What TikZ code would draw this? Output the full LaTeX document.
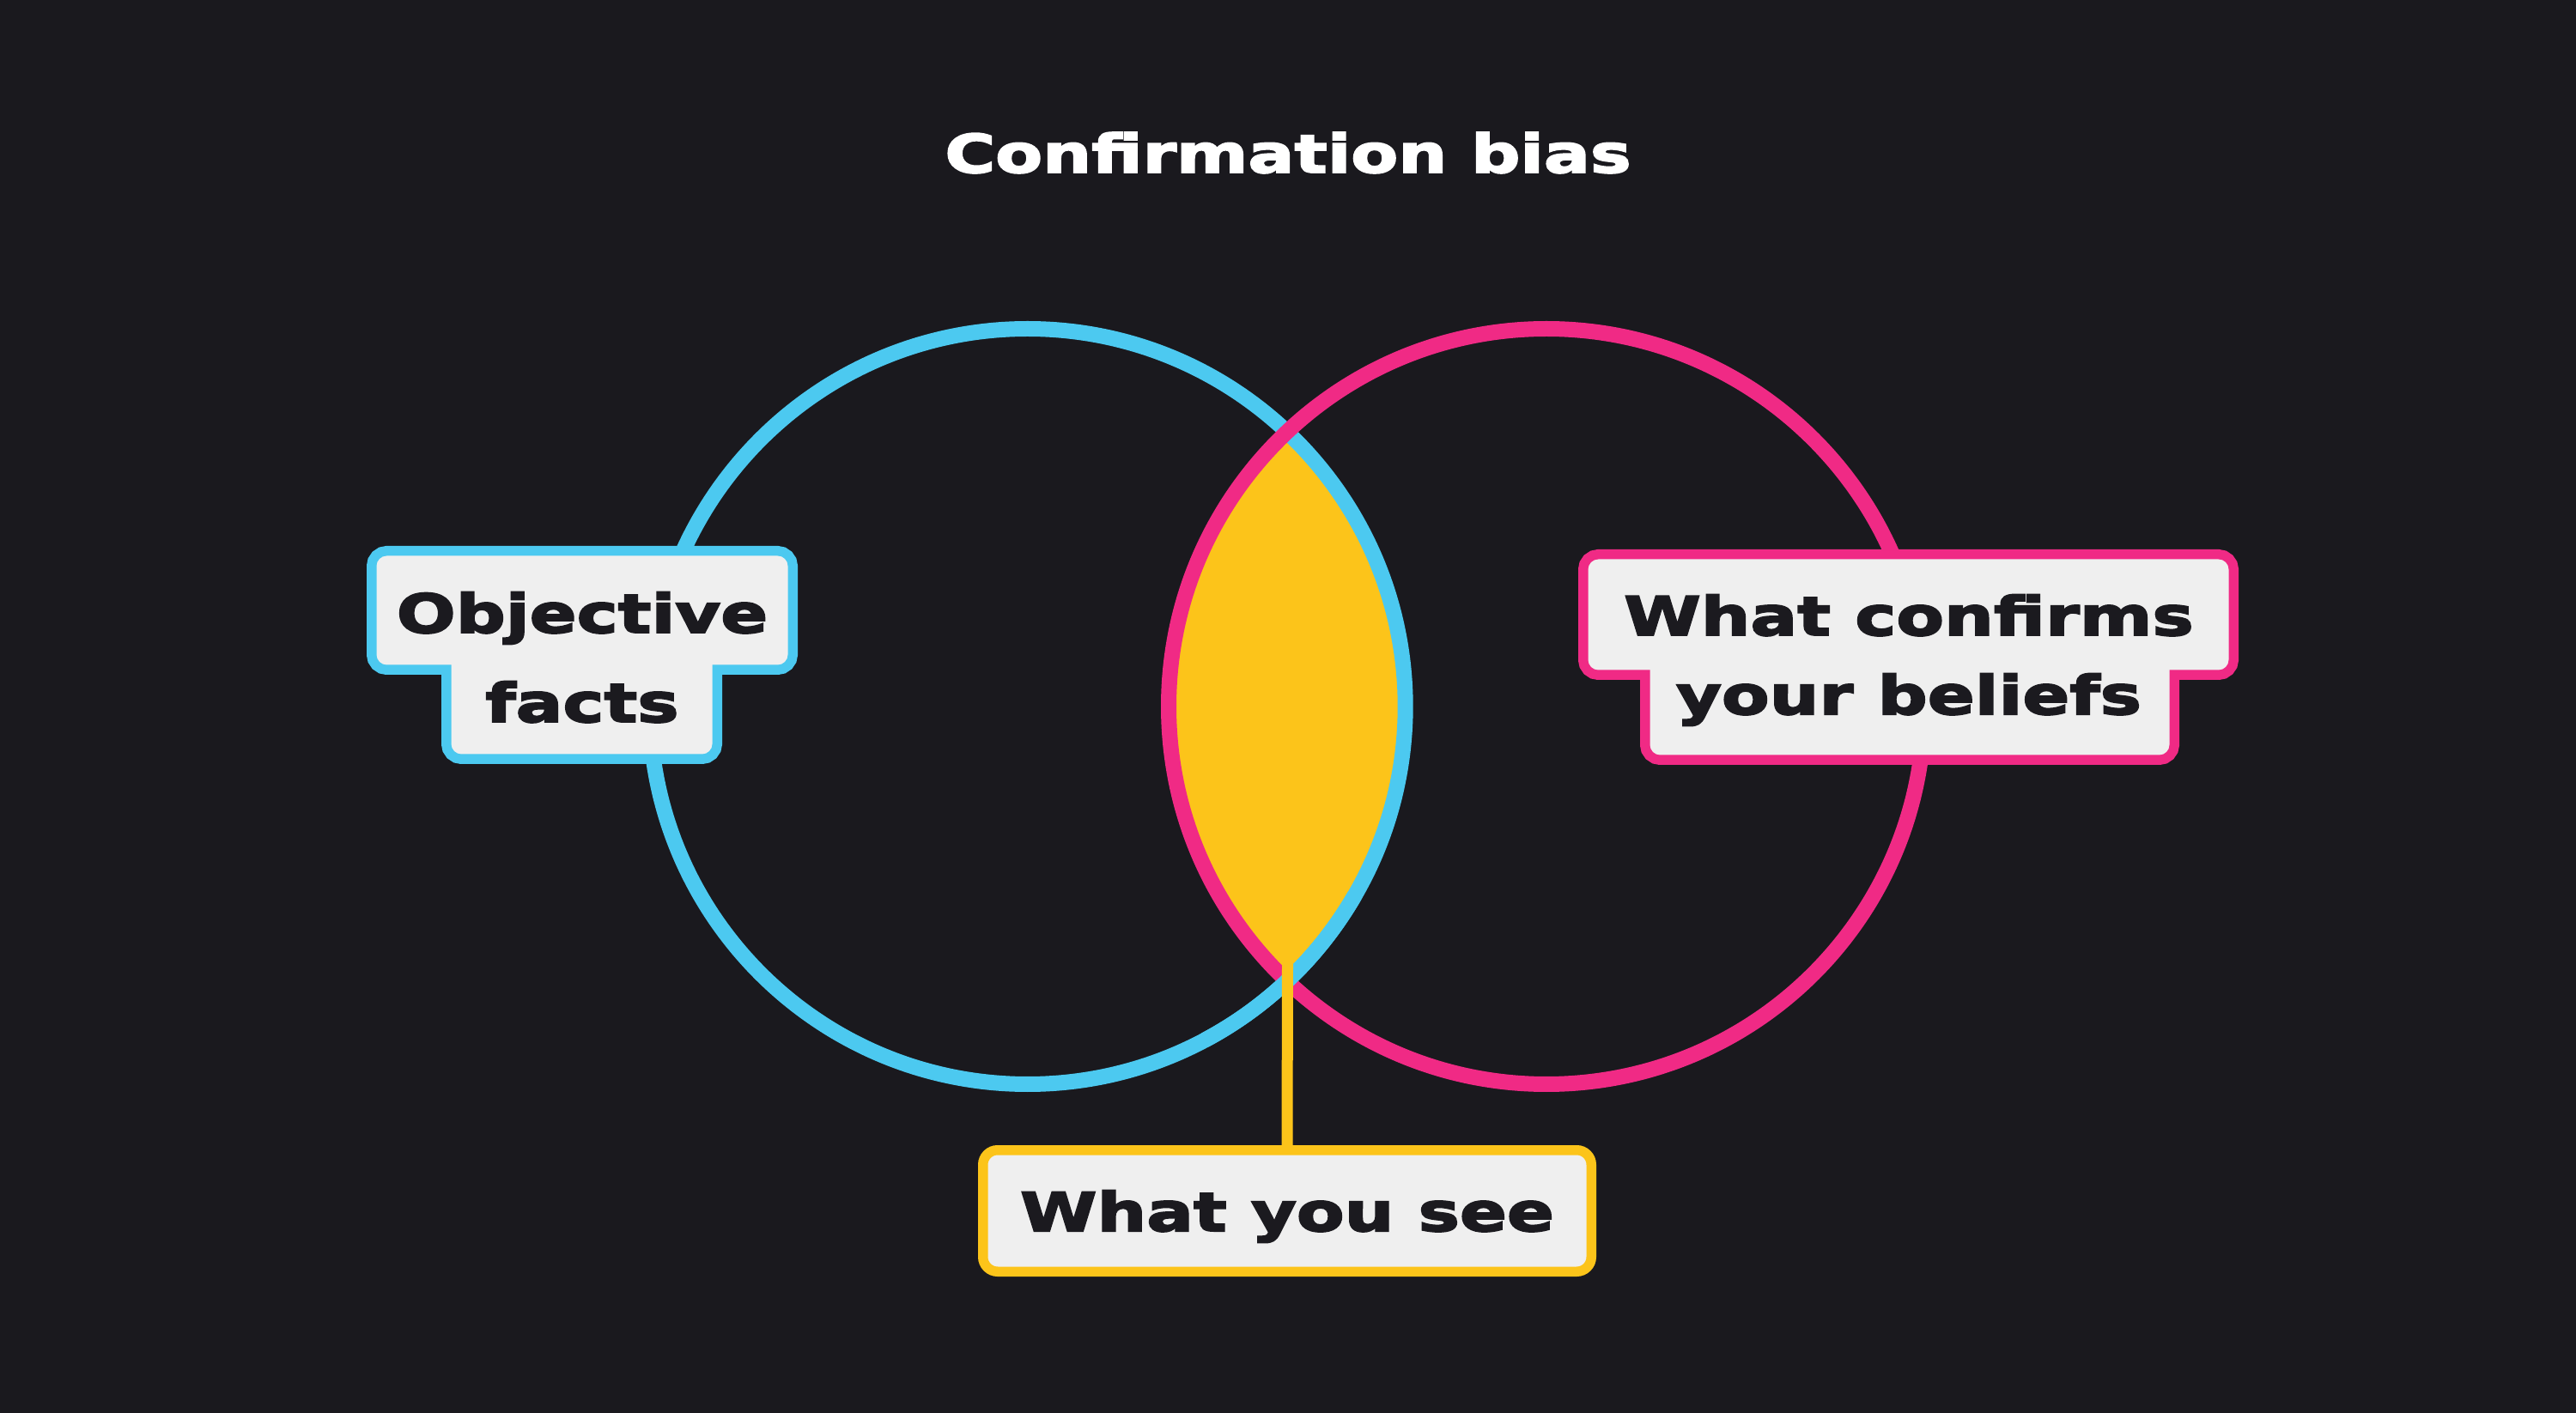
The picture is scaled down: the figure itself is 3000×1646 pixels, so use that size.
\documentclass[tikz,border=0pt]{standalone}
\usepackage{fontspec}
\setmainfont{DejaVu Sans}[FakeStretch=1.3, BoldFeatures={FakeBold=3.2}]
\definecolor{bg}{HTML}{1A191E}
\definecolor{cblue}{HTML}{4CC9F0}
\definecolor{cpink}{HTML}{F02A85}
\definecolor{cyell}{HTML}{FCC41A}
\definecolor{boxfill}{HTML}{EFEFEF}
\definecolor{ink}{HTML}{1B1A1F}
\begin{document}
\begin{tikzpicture}[x=0.25pt,y=-0.25pt,
  ring/.style={line width=4.5pt},
  lblborder/.style={line width=5.75pt, rounded corners=3pt},
  lblfill/.style={fill=boxfill, rounded corners=3pt},
  txt/.style={text=ink, font=\fontsize{15.6pt}{18pt}\selectfont\bfseries, inner sep=0pt, anchor=base},
  ttl/.style={text=white, font=\fontsize{15.4pt}{18pt}\selectfont\bfseries, inner sep=0pt, anchor=base},
  seebox/.style={draw=cyell, fill=boxfill, line width=2.875pt, rounded corners=4.25pt,
     minimum width=708.5*0.25pt, minimum height=141.5*0.25pt, inner sep=0pt}
]
\fill[bg] (0,0) rectangle (3000,1646);
\useasboundingbox (0,0) rectangle (3000,1646);

% title
\node[ttl] (title) at (1500,201) {Confirmation bias};

% circles
\coordinate (L) at (1196.7,823);
\coordinate (R) at (1801,823);
\begin{scope}
  \clip (L) circle[radius=110pt];
  \fill[cyell] (R) circle[radius=110pt];
\end{scope}
\draw[ring, cblue] (L) circle[radius=110pt];
\draw[ring, cpink] (R) circle[radius=110pt];
\draw[ring, cblue] ([shift={(-62:110pt)}]L) arc[start angle=-62, end angle=-30, radius=110pt];

% left label
\path[lblborder, draw=cblue] (438.5,647.5) rectangle (917.5,774.5);
\path[lblborder, draw=cblue] (525.5,720) rectangle (829.5,878.5);
\path[lblfill] (438.5,647.5) rectangle (917.5,774.5);
\path[lblfill] (525.5,720) rectangle (829.5,878.5);
\node[txt] (obj1) at (678,737) {Objective};
\node[txt] (obj2) at (678,841) {facts};

% right label
\path[lblborder, draw=cpink] (1849.5,651.5) rectangle (2595.5,780.5);
\path[lblborder, draw=cpink] (1921.5,720) rectangle (2526.5,879.5);
\path[lblfill] (1849.5,651.5) rectangle (2595.5,780.5);
\path[lblfill] (1921.5,720) rectangle (2526.5,879.5);
\node[txt] (conf1) at (2223,740) {What confirms};
\node[txt] (conf2) at (2223,832) {your beliefs};

% bottom label
\node[seebox] (see) at (1499,1410.5) {};
\coordinate (lensbot) at (1499.5,1123);
\draw[cyell, line width=3.25pt] (lensbot) -- (see.north);
\node[txt] (seetxt) at (1499,1434) {What you see};
\end{tikzpicture}
\end{document}
